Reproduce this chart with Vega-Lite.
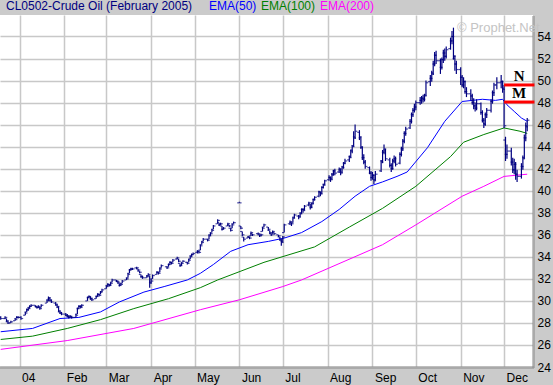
{
"$schema":"https://vega.github.io/schema/vega-lite/v6.json",
"width":533,"height":352,
"autosize":{"type":"none"},
"padding":{"left":0,"top":15,"right":20,"bottom":18},
"background":"#cbcbcb",
"config":{"view":{"stroke":null,"fill":"white"},"axisY":{"tickCount":16,"labelOverlap":false}},
"datasets":{
"ohlc":[
{"d":"2003-12-19","o":28.5,"h":28.6,"l":28.3,"c":28.4},
{"d":"2003-12-22","o":28.4,"h":28.6,"l":28.4,"c":28.5},
{"d":"2003-12-23","o":28.4,"h":28.4,"l":28.1,"c":28.2},
{"d":"2003-12-24","o":28.1,"h":28.2,"l":27.9,"c":28.0},
{"d":"2003-12-26","o":28.0,"h":28.2,"l":28.0,"c":28.1},
{"d":"2003-12-29","o":28.2,"h":28.4,"l":28.2,"c":28.3},
{"d":"2003-12-30","o":28.4,"h":28.6,"l":28.4,"c":28.5},
{"d":"2003-12-31","o":28.5,"h":28.6,"l":28.4,"c":28.5},
{"d":"2004-01-02","o":28.5,"h":28.6,"l":28.3,"c":28.4},
{"d":"2004-01-05","o":28.7,"h":29.0,"l":28.7,"c":28.9},
{"d":"2004-01-06","o":29.0,"h":29.3,"l":29.0,"c":29.2},
{"d":"2004-01-07","o":29.2,"h":29.4,"l":29.1,"c":29.3},
{"d":"2004-01-08","o":29.4,"h":29.6,"l":29.3,"c":29.5},
{"d":"2004-01-09","o":29.5,"h":29.7,"l":29.5,"c":29.6},
{"d":"2004-01-12","o":29.6,"h":29.6,"l":29.4,"c":29.5},
{"d":"2004-01-13","o":29.5,"h":29.5,"l":29.3,"c":29.4},
{"d":"2004-01-14","o":29.4,"h":29.6,"l":29.4,"c":29.5},
{"d":"2004-01-15","o":29.4,"h":29.4,"l":29.2,"c":29.3},
{"d":"2004-01-16","o":29.4,"h":29.7,"l":29.4,"c":29.6},
{"d":"2004-01-20","o":29.8,"h":30.1,"l":29.8,"c":30.0},
{"d":"2004-01-21","o":30.1,"h":30.4,"l":30.0,"c":30.3},
{"d":"2004-01-22","o":30.2,"h":30.3,"l":30.0,"c":30.1},
{"d":"2004-01-23","o":30.0,"h":30.1,"l":29.8,"c":29.9},
{"d":"2004-01-26","o":29.8,"h":29.9,"l":29.6,"c":29.7},
{"d":"2004-01-27","o":29.6,"h":29.7,"l":29.4,"c":29.5},
{"d":"2004-01-28","o":29.4,"h":29.5,"l":29.0,"c":29.1},
{"d":"2004-01-29","o":29.0,"h":29.1,"l":28.8,"c":28.9},
{"d":"2004-01-30","o":28.9,"h":29.0,"l":28.7,"c":28.8},
{"d":"2004-02-02","o":28.8,"h":28.9,"l":28.6,"c":28.7},
{"d":"2004-02-03","o":28.7,"h":28.8,"l":28.5,"c":28.6},
{"d":"2004-02-04","o":28.6,"h":28.7,"l":28.4,"c":28.5},
{"d":"2004-02-05","o":28.5,"h":28.7,"l":28.5,"c":28.6},
{"d":"2004-02-06","o":28.6,"h":28.6,"l":28.4,"c":28.5},
{"d":"2004-02-09","o":28.5,"h":28.8,"l":28.5,"c":28.7},
{"d":"2004-02-10","o":28.8,"h":29.4,"l":28.8,"c":29.3},
{"d":"2004-02-11","o":29.3,"h":29.6,"l":29.3,"c":29.5},
{"d":"2004-02-12","o":29.5,"h":29.6,"l":29.3,"c":29.4},
{"d":"2004-02-13","o":29.5,"h":29.7,"l":29.4,"c":29.6},
{"d":"2004-02-17","o":30.0,"h":30.4,"l":30.0,"c":30.3},
{"d":"2004-02-18","o":30.3,"h":30.5,"l":30.3,"c":30.4},
{"d":"2004-02-19","o":30.4,"h":30.4,"l":30.1,"c":30.2},
{"d":"2004-02-20","o":30.2,"h":30.3,"l":30.0,"c":30.1},
{"d":"2004-02-23","o":30.2,"h":30.5,"l":30.2,"c":30.4},
{"d":"2004-02-24","o":30.4,"h":30.7,"l":30.4,"c":30.6},
{"d":"2004-02-25","o":30.6,"h":30.6,"l":30.4,"c":30.5},
{"d":"2004-02-26","o":30.6,"h":30.9,"l":30.6,"c":30.8},
{"d":"2004-02-27","o":30.8,"h":31.1,"l":30.8,"c":31.0},
{"d":"2004-03-01","o":31.1,"h":31.4,"l":31.1,"c":31.3},
{"d":"2004-03-02","o":31.4,"h":31.6,"l":31.3,"c":31.5},
{"d":"2004-03-03","o":31.5,"h":31.5,"l":31.3,"c":31.4},
{"d":"2004-03-04","o":31.4,"h":31.7,"l":31.4,"c":31.6},
{"d":"2004-03-05","o":31.7,"h":32.0,"l":31.7,"c":31.9},
{"d":"2004-03-08","o":31.9,"h":31.9,"l":31.7,"c":31.8},
{"d":"2004-03-09","o":31.8,"h":31.8,"l":31.6,"c":31.7},
{"d":"2004-03-10","o":31.6,"h":31.6,"l":31.3,"c":31.4},
{"d":"2004-03-11","o":31.4,"h":31.6,"l":31.4,"c":31.5},
{"d":"2004-03-12","o":31.6,"h":31.9,"l":31.6,"c":31.8},
{"d":"2004-03-15","o":31.9,"h":32.1,"l":31.9,"c":32.0},
{"d":"2004-03-16","o":32.1,"h":32.5,"l":32.1,"c":32.4},
{"d":"2004-03-17","o":32.5,"h":32.9,"l":32.5,"c":32.8},
{"d":"2004-03-18","o":32.8,"h":33.0,"l":32.8,"c":32.9},
{"d":"2004-03-19","o":32.9,"h":33.0,"l":32.8,"c":32.9},
{"d":"2004-03-22","o":33.0,"h":33.1,"l":32.9,"c":33.0},
{"d":"2004-03-23","o":32.9,"h":32.9,"l":32.7,"c":32.8},
{"d":"2004-03-24","o":32.7,"h":32.7,"l":32.5,"c":32.6},
{"d":"2004-03-25","o":32.4,"h":32.4,"l":32.1,"c":32.2},
{"d":"2004-03-26","o":32.2,"h":32.3,"l":32.0,"c":32.1},
{"d":"2004-03-29","o":32.1,"h":32.3,"l":32.1,"c":32.2},
{"d":"2004-03-30","o":32.3,"h":32.5,"l":32.3,"c":32.4},
{"d":"2004-03-31","o":32.3,"h":32.3,"l":31.2,"c":31.6},
{"d":"2004-04-01","o":31.7,"h":32.0,"l":31.6,"c":31.8},
{"d":"2004-04-02","o":32.0,"h":32.4,"l":32.0,"c":32.3},
{"d":"2004-04-05","o":32.4,"h":32.7,"l":32.4,"c":32.6},
{"d":"2004-04-06","o":32.6,"h":32.6,"l":32.4,"c":32.5},
{"d":"2004-04-07","o":32.6,"h":33.0,"l":32.6,"c":32.9},
{"d":"2004-04-08","o":33.0,"h":33.3,"l":33.0,"c":33.2},
{"d":"2004-04-12","o":33.1,"h":33.1,"l":32.9,"c":33.0},
{"d":"2004-04-13","o":33.1,"h":33.4,"l":33.1,"c":33.3},
{"d":"2004-04-14","o":33.3,"h":33.6,"l":33.3,"c":33.5},
{"d":"2004-04-15","o":33.5,"h":33.5,"l":33.3,"c":33.4},
{"d":"2004-04-16","o":33.5,"h":33.8,"l":33.5,"c":33.7},
{"d":"2004-04-19","o":33.8,"h":34.0,"l":33.8,"c":33.9},
{"d":"2004-04-20","o":33.8,"h":33.8,"l":33.5,"c":33.6},
{"d":"2004-04-21","o":33.4,"h":33.4,"l":33.1,"c":33.2},
{"d":"2004-04-22","o":33.2,"h":33.5,"l":33.2,"c":33.4},
{"d":"2004-04-23","o":33.5,"h":33.7,"l":33.5,"c":33.6},
{"d":"2004-04-26","o":33.5,"h":33.5,"l":33.3,"c":33.4},
{"d":"2004-04-27","o":33.5,"h":33.8,"l":33.5,"c":33.7},
{"d":"2004-04-28","o":33.8,"h":34.1,"l":33.8,"c":34.0},
{"d":"2004-04-29","o":34.1,"h":34.3,"l":34.0,"c":34.2},
{"d":"2004-04-30","o":34.2,"h":34.4,"l":34.2,"c":34.3},
{"d":"2004-05-03","o":34.4,"h":34.6,"l":34.3,"c":34.5},
{"d":"2004-05-04","o":34.5,"h":34.5,"l":34.3,"c":34.4},
{"d":"2004-05-05","o":34.6,"h":35.1,"l":34.6,"c":35.0},
{"d":"2004-05-06","o":35.1,"h":35.4,"l":35.1,"c":35.3},
{"d":"2004-05-07","o":35.4,"h":35.7,"l":35.4,"c":35.6},
{"d":"2004-05-10","o":35.6,"h":35.6,"l":35.4,"c":35.5},
{"d":"2004-05-11","o":35.6,"h":36.0,"l":35.6,"c":35.9},
{"d":"2004-05-12","o":36.0,"h":36.2,"l":35.9,"c":36.1},
{"d":"2004-05-13","o":36.2,"h":36.5,"l":36.2,"c":36.4},
{"d":"2004-05-14","o":36.5,"h":36.9,"l":36.5,"c":36.8},
{"d":"2004-05-17","o":37.0,"h":37.4,"l":37.0,"c":37.3},
{"d":"2004-05-18","o":37.1,"h":37.1,"l":36.8,"c":36.9},
{"d":"2004-05-19","o":36.9,"h":37.1,"l":36.9,"c":37.0},
{"d":"2004-05-20","o":36.8,"h":36.8,"l":36.4,"c":36.5},
{"d":"2004-05-21","o":36.5,"h":36.7,"l":36.5,"c":36.6},
{"d":"2004-05-24","o":36.8,"h":37.1,"l":36.8,"c":37.0},
{"d":"2004-05-25","o":36.9,"h":36.9,"l":36.7,"c":36.8},
{"d":"2004-05-26","o":36.6,"h":36.6,"l":36.3,"c":36.4},
{"d":"2004-05-27","o":36.6,"h":37.0,"l":36.6,"c":36.9},
{"d":"2004-05-28","o":37.0,"h":37.2,"l":37.0,"c":37.1},
{"d":"2004-06-01","o":38.9,"h":39.0,"l":38.9,"c":38.9},
{"d":"2004-06-02","o":36.8,"h":36.8,"l":36.5,"c":36.6},
{"d":"2004-06-03","o":36.3,"h":36.3,"l":35.9,"c":36.0},
{"d":"2004-06-04","o":35.8,"h":35.8,"l":35.4,"c":35.6},
{"d":"2004-06-07","o":35.7,"h":35.9,"l":35.7,"c":35.8},
{"d":"2004-06-08","o":35.8,"h":35.8,"l":35.6,"c":35.7},
{"d":"2004-06-09","o":35.9,"h":36.3,"l":35.9,"c":36.2},
{"d":"2004-06-10","o":36.1,"h":36.1,"l":35.9,"c":36.0},
{"d":"2004-06-14","o":36.1,"h":36.2,"l":36.0,"c":36.1},
{"d":"2004-06-15","o":36.0,"h":36.0,"l":35.8,"c":35.9},
{"d":"2004-06-16","o":36.0,"h":36.1,"l":35.9,"c":36.0},
{"d":"2004-06-17","o":36.3,"h":36.7,"l":36.3,"c":36.6},
{"d":"2004-06-18","o":36.7,"h":37.0,"l":36.7,"c":36.9},
{"d":"2004-06-21","o":36.7,"h":36.7,"l":36.4,"c":36.5},
{"d":"2004-06-22","o":36.4,"h":36.4,"l":36.1,"c":36.2},
{"d":"2004-06-23","o":36.1,"h":36.1,"l":35.9,"c":36.0},
{"d":"2004-06-24","o":36.1,"h":36.4,"l":36.1,"c":36.3},
{"d":"2004-06-25","o":36.2,"h":36.2,"l":36.0,"c":36.1},
{"d":"2004-06-28","o":36.0,"h":36.0,"l":35.8,"c":35.9},
{"d":"2004-06-29","o":35.8,"h":35.8,"l":35.5,"c":35.6},
{"d":"2004-06-30","o":35.5,"h":35.6,"l":35.0,"c":35.3},
{"d":"2004-07-01","o":35.4,"h":35.9,"l":35.3,"c":35.8},
{"d":"2004-07-02","o":36.2,"h":37.0,"l":36.2,"c":36.9},
{"d":"2004-07-06","o":37.0,"h":37.3,"l":36.9,"c":37.2},
{"d":"2004-07-07","o":37.1,"h":37.1,"l":36.8,"c":37.0},
{"d":"2004-07-08","o":37.1,"h":37.6,"l":37.1,"c":37.5},
{"d":"2004-07-09","o":37.6,"h":37.9,"l":37.5,"c":37.8},
{"d":"2004-07-12","o":37.7,"h":37.8,"l":37.4,"c":37.6},
{"d":"2004-07-13","o":37.7,"h":38.0,"l":37.6,"c":37.9},
{"d":"2004-07-14","o":38.0,"h":38.4,"l":37.9,"c":38.3},
{"d":"2004-07-15","o":38.3,"h":38.4,"l":38.0,"c":38.2},
{"d":"2004-07-16","o":38.3,"h":38.7,"l":38.2,"c":38.6},
{"d":"2004-07-19","o":38.7,"h":39.0,"l":38.6,"c":38.9},
{"d":"2004-07-20","o":38.8,"h":38.8,"l":38.3,"c":38.5},
{"d":"2004-07-21","o":38.5,"h":38.9,"l":38.4,"c":38.8},
{"d":"2004-07-22","o":38.9,"h":39.3,"l":38.8,"c":39.2},
{"d":"2004-07-23","o":39.2,"h":39.5,"l":39.1,"c":39.4},
{"d":"2004-07-26","o":39.5,"h":40.0,"l":39.4,"c":39.9},
{"d":"2004-07-27","o":39.9,"h":39.9,"l":39.5,"c":39.7},
{"d":"2004-07-28","o":39.8,"h":40.4,"l":39.7,"c":40.3},
{"d":"2004-07-29","o":40.3,"h":40.6,"l":40.2,"c":40.5},
{"d":"2004-07-30","o":40.6,"h":41.0,"l":40.5,"c":40.9},
{"d":"2004-08-02","o":41.0,"h":41.4,"l":40.9,"c":41.2},
{"d":"2004-08-03","o":41.2,"h":41.3,"l":40.8,"c":41.0},
{"d":"2004-08-04","o":41.1,"h":41.6,"l":41.0,"c":41.4},
{"d":"2004-08-05","o":41.5,"h":41.9,"l":41.4,"c":41.8},
{"d":"2004-08-06","o":41.8,"h":42.0,"l":41.4,"c":41.6},
{"d":"2004-08-09","o":41.7,"h":42.1,"l":41.6,"c":42.0},
{"d":"2004-08-10","o":41.9,"h":42.0,"l":41.4,"c":41.6},
{"d":"2004-08-11","o":41.7,"h":42.2,"l":41.6,"c":42.1},
{"d":"2004-08-12","o":42.2,"h":42.6,"l":42.0,"c":42.5},
{"d":"2004-08-13","o":42.5,"h":42.9,"l":42.4,"c":42.7},
{"d":"2004-08-16","o":42.8,"h":43.2,"l":42.6,"c":43.0},
{"d":"2004-08-17","o":43.1,"h":43.7,"l":43.0,"c":43.6},
{"d":"2004-08-18","o":43.7,"h":44.1,"l":43.4,"c":44.0},
{"d":"2004-08-19","o":44.1,"h":45.4,"l":44.0,"c":44.8},
{"d":"2004-08-20","o":44.9,"h":46.0,"l":44.7,"c":45.4},
{"d":"2004-08-23","o":45.3,"h":45.5,"l":44.6,"c":44.9},
{"d":"2004-08-24","o":44.8,"h":44.9,"l":43.8,"c":44.0},
{"d":"2004-08-25","o":43.9,"h":44.0,"l":42.8,"c":43.0},
{"d":"2004-08-26","o":43.0,"h":43.3,"l":42.4,"c":42.6},
{"d":"2004-08-27","o":42.6,"h":42.8,"l":42.0,"c":42.2},
{"d":"2004-08-30","o":42.1,"h":42.2,"l":41.5,"c":41.6},
{"d":"2004-08-31","o":41.6,"h":41.8,"l":40.9,"c":41.2},
{"d":"2004-09-01","o":41.2,"h":41.7,"l":41.0,"c":41.4},
{"d":"2004-09-02","o":41.4,"h":41.5,"l":40.6,"c":40.9},
{"d":"2004-09-03","o":41.0,"h":41.8,"l":40.9,"c":41.5},
{"d":"2004-09-07","o":41.8,"h":42.8,"l":41.7,"c":42.6},
{"d":"2004-09-08","o":42.7,"h":43.7,"l":42.5,"c":43.5},
{"d":"2004-09-09","o":43.5,"h":44.2,"l":43.3,"c":43.8},
{"d":"2004-09-10","o":43.7,"h":43.8,"l":42.7,"c":42.9},
{"d":"2004-09-13","o":42.8,"h":43.0,"l":42.1,"c":42.3},
{"d":"2004-09-14","o":42.3,"h":42.5,"l":41.7,"c":42.0},
{"d":"2004-09-15","o":42.0,"h":42.9,"l":41.9,"c":42.7},
{"d":"2004-09-16","o":42.7,"h":43.2,"l":42.5,"c":42.9},
{"d":"2004-09-17","o":42.9,"h":43.1,"l":42.2,"c":42.4},
{"d":"2004-09-20","o":42.5,"h":43.5,"l":42.4,"c":43.3},
{"d":"2004-09-21","o":43.3,"h":44.0,"l":43.1,"c":43.8},
{"d":"2004-09-22","o":43.8,"h":44.7,"l":43.6,"c":44.5},
{"d":"2004-09-23","o":44.5,"h":45.4,"l":44.3,"c":45.2},
{"d":"2004-09-24","o":45.2,"h":45.8,"l":45.0,"c":45.6},
{"d":"2004-09-27","o":45.7,"h":46.5,"l":45.6,"c":46.3},
{"d":"2004-09-28","o":46.3,"h":47.1,"l":46.1,"c":46.9},
{"d":"2004-09-29","o":46.9,"h":47.5,"l":46.7,"c":47.3},
{"d":"2004-09-30","o":47.3,"h":47.9,"l":47.1,"c":47.6},
{"d":"2004-10-01","o":47.6,"h":48.2,"l":47.3,"c":48.0},
{"d":"2004-10-04","o":48.0,"h":48.5,"l":47.8,"c":48.2},
{"d":"2004-10-05","o":48.2,"h":48.6,"l":47.9,"c":48.4},
{"d":"2004-10-06","o":48.4,"h":48.7,"l":48.0,"c":48.3},
{"d":"2004-10-07","o":48.3,"h":48.8,"l":48.1,"c":48.6},
{"d":"2004-10-08","o":48.7,"h":50.0,"l":48.6,"c":49.8},
{"d":"2004-10-11","o":49.9,"h":50.5,"l":49.5,"c":50.2},
{"d":"2004-10-12","o":50.2,"h":50.9,"l":49.9,"c":50.6},
{"d":"2004-10-13","o":50.7,"h":51.8,"l":50.5,"c":51.5},
{"d":"2004-10-14","o":51.5,"h":52.6,"l":51.3,"c":52.3},
{"d":"2004-10-15","o":52.3,"h":52.7,"l":51.5,"c":51.8},
{"d":"2004-10-18","o":51.8,"h":52.0,"l":50.6,"c":51.2},
{"d":"2004-10-19","o":51.2,"h":52.1,"l":51.0,"c":51.9},
{"d":"2004-10-20","o":51.9,"h":52.8,"l":51.6,"c":52.5},
{"d":"2004-10-21","o":52.5,"h":52.9,"l":51.8,"c":52.2},
{"d":"2004-10-22","o":52.2,"h":53.1,"l":52.0,"c":52.8},
{"d":"2004-10-25","o":52.9,"h":53.9,"l":52.8,"c":53.6},
{"d":"2004-10-26","o":53.6,"h":54.5,"l":53.3,"c":54.0},
{"d":"2004-10-27","o":54.0,"h":54.8,"l":51.9,"c":52.2},
{"d":"2004-10-28","o":52.0,"h":52.3,"l":50.9,"c":51.5},
{"d":"2004-10-29","o":51.5,"h":51.8,"l":50.6,"c":51.0},
{"d":"2004-11-01","o":51.0,"h":51.2,"l":49.6,"c":50.3},
{"d":"2004-11-02","o":50.3,"h":50.5,"l":49.4,"c":49.6},
{"d":"2004-11-03","o":49.6,"h":50.3,"l":49.3,"c":49.9},
{"d":"2004-11-04","o":49.9,"h":50.0,"l":48.8,"c":49.0},
{"d":"2004-11-05","o":49.0,"h":49.4,"l":48.5,"c":48.8},
{"d":"2004-11-08","o":48.8,"h":49.2,"l":48.2,"c":48.6},
{"d":"2004-11-09","o":48.6,"h":48.8,"l":47.8,"c":48.0},
{"d":"2004-11-10","o":48.0,"h":48.4,"l":47.4,"c":47.7},
{"d":"2004-11-11","o":47.7,"h":48.0,"l":47.2,"c":47.5},
{"d":"2004-11-12","o":47.5,"h":48.3,"l":47.3,"c":47.9},
{"d":"2004-11-15","o":47.9,"h":48.0,"l":46.9,"c":47.1},
{"d":"2004-11-16","o":47.1,"h":47.3,"l":46.2,"c":46.4},
{"d":"2004-11-17","o":46.4,"h":46.6,"l":45.7,"c":46.0},
{"d":"2004-11-18","o":46.1,"h":47.1,"l":45.9,"c":46.9},
{"d":"2004-11-19","o":46.9,"h":47.5,"l":46.6,"c":47.3},
{"d":"2004-11-22","o":47.3,"h":48.3,"l":47.1,"c":48.1},
{"d":"2004-11-23","o":48.1,"h":49.1,"l":47.9,"c":48.9},
{"d":"2004-11-24","o":48.9,"h":49.8,"l":48.6,"c":49.6},
{"d":"2004-11-26","o":49.6,"h":50.3,"l":49.2,"c":49.8},
{"d":"2004-11-29","o":49.8,"h":50.5,"l":49.3,"c":49.9},
{"d":"2004-11-30","o":49.9,"h":50.0,"l":48.9,"c":49.2},
{"d":"2004-12-01","o":49.3,"h":49.6,"l":45.7,"c":45.9},
{"d":"2004-12-02","o":44.6,"h":44.9,"l":42.7,"c":43.3},
{"d":"2004-12-03","o":43.3,"h":44.2,"l":42.9,"c":43.6},
{"d":"2004-12-06","o":43.6,"h":43.9,"l":42.3,"c":42.6},
{"d":"2004-12-07","o":42.6,"h":43.0,"l":41.6,"c":41.9},
{"d":"2004-12-08","o":41.9,"h":42.9,"l":41.5,"c":42.4},
{"d":"2004-12-09","o":42.4,"h":42.6,"l":41.0,"c":41.5},
{"d":"2004-12-10","o":41.5,"h":41.9,"l":40.8,"c":41.3},
{"d":"2004-12-13","o":41.3,"h":42.5,"l":41.1,"c":42.2},
{"d":"2004-12-14","o":42.2,"h":43.2,"l":41.9,"c":42.9},
{"d":"2004-12-15","o":43.0,"h":45.1,"l":42.9,"c":44.8},
{"d":"2004-12-16","o":44.8,"h":46.2,"l":44.5,"c":45.8},
{"d":"2004-12-17","o":45.9,"h":46.6,"l":45.4,"c":46.4}
],
"ema":[
{"d":"2003-12-19","s":"EMA(50)","v":27.2},
{"d":"2004-01-10","s":"EMA(50)","v":27.5},
{"d":"2004-01-29","s":"EMA(50)","v":28.4},
{"d":"2004-02-11","s":"EMA(50)","v":28.5},
{"d":"2004-02-26","s":"EMA(50)","v":29.0},
{"d":"2004-03-10","s":"EMA(50)","v":29.9},
{"d":"2004-03-27","s":"EMA(50)","v":30.8},
{"d":"2004-04-10","s":"EMA(50)","v":31.3},
{"d":"2004-04-26","s":"EMA(50)","v":31.9},
{"d":"2004-05-05","s":"EMA(50)","v":32.5},
{"d":"2004-05-14","s":"EMA(50)","v":33.3},
{"d":"2004-05-26","s":"EMA(50)","v":34.5},
{"d":"2004-06-07","s":"EMA(50)","v":35.1},
{"d":"2004-06-21","s":"EMA(50)","v":35.4},
{"d":"2004-07-02","s":"EMA(50)","v":35.7},
{"d":"2004-07-14","s":"EMA(50)","v":36.2},
{"d":"2004-07-28","s":"EMA(50)","v":37.2},
{"d":"2004-08-09","s":"EMA(50)","v":38.3},
{"d":"2004-08-20","s":"EMA(50)","v":39.5},
{"d":"2004-08-30","s":"EMA(50)","v":40.4},
{"d":"2004-09-08","s":"EMA(50)","v":40.8},
{"d":"2004-09-18","s":"EMA(50)","v":41.3},
{"d":"2004-09-25","s":"EMA(50)","v":41.7},
{"d":"2004-10-09","s":"EMA(50)","v":43.9},
{"d":"2004-10-21","s":"EMA(50)","v":46.3},
{"d":"2004-11-02","s":"EMA(50)","v":48.1},
{"d":"2004-11-16","s":"EMA(50)","v":48.3},
{"d":"2004-11-25","s":"EMA(50)","v":48.2},
{"d":"2004-11-30","s":"EMA(50)","v":48.3},
{"d":"2004-12-03","s":"EMA(50)","v":47.8},
{"d":"2004-12-08","s":"EMA(50)","v":47.2},
{"d":"2004-12-13","s":"EMA(50)","v":46.6},
{"d":"2004-12-17","s":"EMA(50)","v":46.3},
{"d":"2003-12-19","s":"EMA(100)","v":26.5},
{"d":"2004-01-10","s":"EMA(100)","v":26.8},
{"d":"2004-02-03","s":"EMA(100)","v":27.5},
{"d":"2004-02-26","s":"EMA(100)","v":28.3},
{"d":"2004-03-20","s":"EMA(100)","v":29.3},
{"d":"2004-04-13","s":"EMA(100)","v":30.2},
{"d":"2004-05-05","s":"EMA(100)","v":31.2},
{"d":"2004-05-17","s":"EMA(100)","v":31.9},
{"d":"2004-06-18","s":"EMA(100)","v":33.5},
{"d":"2004-07-23","s":"EMA(100)","v":34.9},
{"d":"2004-08-16","s":"EMA(100)","v":36.7},
{"d":"2004-09-08","s":"EMA(100)","v":38.4},
{"d":"2004-10-01","s":"EMA(100)","v":40.4},
{"d":"2004-10-25","s":"EMA(100)","v":43.1},
{"d":"2004-11-03","s":"EMA(100)","v":44.4},
{"d":"2004-11-17","s":"EMA(100)","v":45.1},
{"d":"2004-12-01","s":"EMA(100)","v":45.7},
{"d":"2004-12-12","s":"EMA(100)","v":45.4},
{"d":"2004-12-17","s":"EMA(100)","v":45.2},
{"d":"2003-12-19","s":"EMA(200)","v":25.6},
{"d":"2004-02-03","s":"EMA(200)","v":26.4},
{"d":"2004-03-20","s":"EMA(200)","v":27.5},
{"d":"2004-05-05","s":"EMA(200)","v":29.2},
{"d":"2004-06-01","s":"EMA(200)","v":30.1},
{"d":"2004-07-01","s":"EMA(200)","v":31.3},
{"d":"2004-07-14","s":"EMA(200)","v":31.9},
{"d":"2004-09-08","s":"EMA(200)","v":35.1},
{"d":"2004-10-01","s":"EMA(200)","v":36.9},
{"d":"2004-11-02","s":"EMA(200)","v":39.5},
{"d":"2004-11-17","s":"EMA(200)","v":40.4},
{"d":"2004-12-01","s":"EMA(200)","v":41.3},
{"d":"2004-12-17","s":"EMA(200)","v":41.5}
],
"levels":[
{"lbl":"N","lvl":49.6,"from":"2004-12-01","to":"2004-12-22"},
{"lbl":"M","lvl":48.05,"from":"2004-12-01","to":"2004-12-22"}
]
},
"layer":[
{
"data":{"name":"ema"},
"mark":{"type":"line","strokeWidth":1},
"encoding":{
"x":{"field":"d","type":"temporal",
"scale":{"type":"utc","domain":[{"year":2003,"month":12,"date":18,"hours":12,"utc":true},{"year":2004,"month":12,"date":21,"utc":true}]},
"axis":{"orient":"bottom","title":null,"tickCount":{"interval":"month","step":1},"labelExpr":"utcmonth(datum.value)==0 ? '04' : utcFormat(datum.value,'%b')","labelAlign":"left","labelOffset":2,"labelPadding":5,"labelFont":"Liberation Sans","labelFontSize":12,"labelColor":"black","ticks":false,"domain":true,"domainColor":"#8a8a8a","domainWidth":3,"domainDash":[1,1],"grid":true,"gridColor":"#c8c8c8","gridWidth":1.5,"labelBound":false,"labelOverlap":false,"labelFlush":false}},
"y":{"field":"v","type":"quantitative",
"scale":{"domain":[24,55.95],"nice":false,"zero":false},
"axis":{"orient":"right","title":null,"tickCount":16,"values":[24,26,28,30,32,34,36,38,40,42,44,46,48,50,52,54],"labelPadding":4,"labelFont":"Liberation Sans","labelFontSize":12,"labelColor":"black","ticks":false,"domain":true,"domainColor":"#8a8a8a","domainWidth":3,"domainDash":[1,1],"grid":true,"gridColor":"#c8c8c8","gridWidth":1.5,"labelFlush":false,"labelOverlap":false}},
"color":{"field":"s","type":"nominal",
"scale":{"domain":["EMA(50)","EMA(100)","EMA(200)"],"range":["#0000ff","#008000","#ff00ff"]},
"legend":{"orient":"none","legendX":6,"legendY":-15,"direction":"horizontal","title":"CL0502-Crude Oil (February 2005)","titleOrient":"left","titleColor":"#000080","titleFont":"Liberation Sans","titleFontSize":12,"titleFontWeight":"normal","titlePadding":22,"titleBaseline":"middle","titleLimit":400,"gridAlign":"none","symbolSize":0,"symbolStrokeWidth":0,"symbolOpacity":0,"labelOffset":-18,"columnPadding":4,"padding":0,"labelFont":"Liberation Sans","labelFontSize":12,"labelColor":{"expr":"datum.label=='EMA(50)' ? '#0000ff' : datum.label=='EMA(100)' ? '#008000' : '#ff00ff'"}}}
}
},
{
"data":{"name":"ohlc"},
"mark":{"type":"rule","color":"#000080","strokeWidth":1.2},
"encoding":{
"x":{"field":"d","type":"temporal","title":null},
"y":{"field":"l","type":"quantitative","title":null},
"y2":{"field":"h"}
}
},
{
"data":{"name":"ohlc"},
"mark":{"type":"tick","orient":"horizontal","color":"#000080","size":2,"thickness":1.2,"xOffset":-1.2},
"encoding":{
"x":{"field":"d","type":"temporal","title":null},
"y":{"field":"o","type":"quantitative","title":null}
}
},
{
"data":{"name":"ohlc"},
"mark":{"type":"tick","orient":"horizontal","color":"#000080","size":2,"thickness":1.2,"xOffset":1.2},
"encoding":{
"x":{"field":"d","type":"temporal","title":null},
"y":{"field":"c","type":"quantitative","title":null}
}
},
{
"data":{"name":"levels"},
"mark":{"type":"rule","color":"#ff0000","strokeWidth":3},
"encoding":{
"x":{"field":"from","type":"temporal","title":null},
"x2":{"field":"to"},
"y":{"field":"lvl","type":"quantitative","title":null}
}
},
{
"data":{"name":"levels"},
"mark":{"type":"text","font":"Liberation Serif","fontWeight":"bold","fontSize":15,"color":"black","align":"center","baseline":"alphabetic","dx":15,"dy":-4},
"encoding":{
"x":{"field":"from","type":"temporal","title":null},
"y":{"field":"lvl","type":"quantitative","title":null},
"text":{"field":"lbl"}
}
},
{
"data":{"values":[{}]},
"mark":{"type":"text","text":"© Prophet.Net","font":"Liberation Sans","fontSize":13,"color":"#c4c4c4","align":"center","baseline":"middle"},
"encoding":{
"x":{"datum":{"year":2004,"month":11,"date":27,"utc":true},"type":"temporal","title":null},
"y":{"datum":54.8,"type":"quantitative","title":null}
}
}
]
}
